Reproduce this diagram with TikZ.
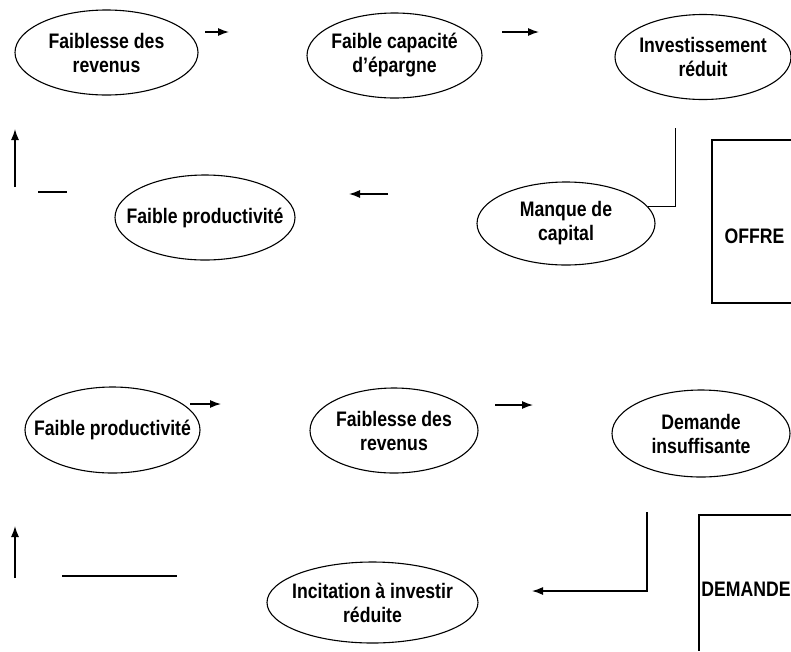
\documentclass[tikz,border=0pt]{standalone}
\usepackage{fontspec}
\setmainfont{Liberation Sans}[FakeStretch=0.84]
\usetikzlibrary{shapes.geometric,arrows.meta}
\begin{document}
\begin{tikzpicture}[x=1pt,y=-1pt,
  txt/.style={font=\fontsize{21}{24}\selectfont\bfseries, align=center, inner sep=0pt},
  bub/.style={draw, ellipse, line width=1.1pt, inner sep=0pt, label={[txt]center:{#1}}},
  arr/.style={-{Latex[length=11pt,width=8pt]}, line width=1.3pt},
  ln/.style={line width=1.3pt},
  frame/.style={line width=1.2pt}]
\useasboundingbox[fill=white] (0,0) rectangle (791,651);

% ---------- OFFRE ----------
\node[bub={Faiblesse des\\revenus}, minimum width=183pt, minimum height=85pt] (fr1) at (106.5,52.5) {};
\node[bub={Faible capacité\\d’épargne}, minimum width=175pt, minimum height=85pt] (fce) at (394.5,55.5) {};
\node[bub={Investissement\\réduit}, minimum width=176pt, minimum height=85pt] (inv) at (703,57) {};
\node[bub={Manque de\\capital}, minimum width=178pt, minimum height=83pt] (mdc) at (566,223.5) {};
\node[bub={Faible productivité}, minimum width=180pt, minimum height=85pt] (fp1) at (205,217.5) {};

\coordinate (a1s) at (205,32);  \coordinate (a1e) at (229,32);
\coordinate (a2s) at (502,32);  \coordinate (a2e) at (539,32);
\coordinate (v1s) at (675.5,128);
\coordinate (a3s) at (388,194); \coordinate (a3e) at (349,194);
\coordinate (l1s) at (38,192);  \coordinate (l1e) at (67,192);
\coordinate (u1s) at (15,187);  \coordinate (u1e) at (15,129);

\draw[arr] (a1s) -- (a1e);
\draw[arr] (a2s) -- (a2e);
\draw[ln] (v1s) |- (mdc.12);
\draw[arr] (a3s) -- (a3e);
\draw[ln] (l1s) -- (l1e);
\draw[arr] (u1s) -- (u1e);

\draw[frame] (791,140) -- (712,140) -- (712,303) -- (791,303);
\node[txt] (offre) at (754.5,236) {OFFRE};

% ---------- DEMANDE ----------
\node[bub={Faible productivité}, minimum width=175pt, minimum height=86pt] (fp2) at (112.5,430) {};
\node[bub={Faiblesse des\\revenus}, minimum width=168pt, minimum height=85pt] (fr2) at (394,430.5) {};
\node[bub={Demande\\insuffisante}, minimum width=178pt, minimum height=87pt] (dins) at (701,433.5) {};
\node[bub={Incitation à investir\\réduite}, minimum width=211pt, minimum height=81pt] (inc) at (372.5,602.5) {};

\coordinate (a4s) at (190,404);  \coordinate (a4e) at (221,404);
\coordinate (a5s) at (495,405);  \coordinate (a5e) at (533,405);
\coordinate (v2s) at (647,512);  \coordinate (v2c) at (647,591);
\coordinate (a6e) at (532,591);
\coordinate (l2s) at (62,576);   \coordinate (l2e) at (177,576);
\coordinate (u2s) at (15,578);   \coordinate (u2e) at (15,526);

\draw[arr] (a4s) -- (a4e);
\draw[arr] (a5s) -- (a5e);
\draw[arr] (v2s) -- (v2c) -- (a6e);
\draw[ln] (l2s) -- (l2e);
\draw[arr] (u2s) -- (u2e);

\draw[frame] (791,515) -- (699,515) -- (699,651);
\node[txt] (demande) at (746,589) {DEMANDE};
\end{tikzpicture}
\end{document}
